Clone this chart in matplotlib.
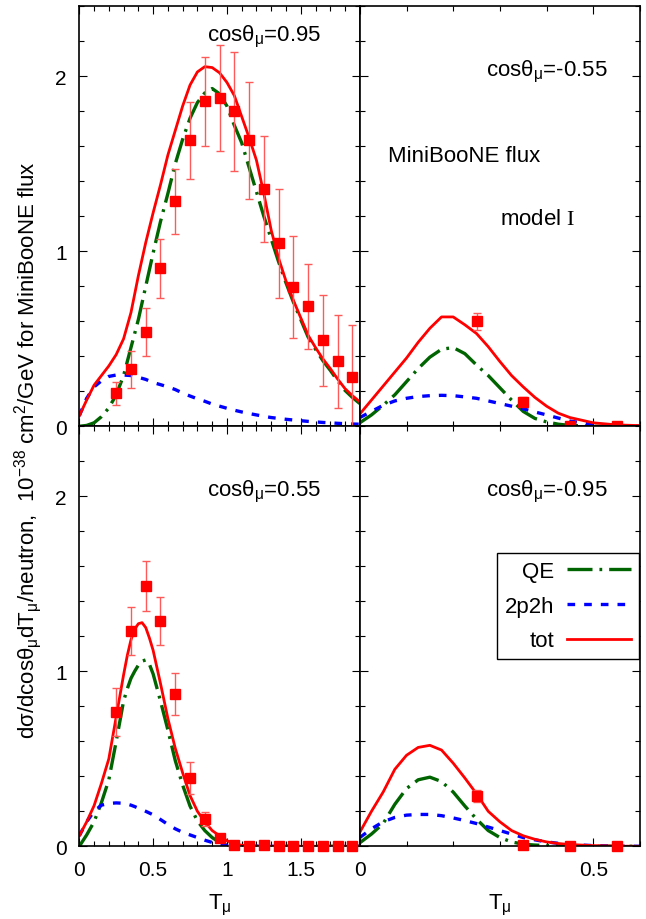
#!/usr/bin/python
"""
    Double differential cross sections d(sigma)/dcos(theta)dT of the muon
    for four muon angles, folded with the MiniBooNE flux (model I):
    QE, 2p2h and their total against the measured points.
"""

# import python third party modules
import matplotlib
matplotlib.use('Agg')
import matplotlib.pyplot as plt
from matplotlib.ticker import FormatStrFormatter, MultipleLocator


# define global variables
# muon kinetic energy grids of the theory curves
T_095 = [0.0, 0.05, 0.1, 0.15, 0.2, 0.25, 0.3, 0.35, 0.4, 0.45, 0.5, 0.55,
         0.6, 0.65, 0.7, 0.75, 0.8, 0.85, 0.9, 0.95, 1.0, 1.05, 1.1, 1.15,
         1.2, 1.25, 1.3, 1.35, 1.4, 1.45, 1.5, 1.55, 1.6, 1.65, 1.7, 1.75,
         1.8, 1.85, 1.9]
T_055 = [0.0, 0.05, 0.1, 0.15, 0.2, 0.25, 0.3, 0.325, 0.35, 0.375, 0.4,
         0.425, 0.45, 0.475, 0.5, 0.55, 0.6, 0.65, 0.7, 0.75, 0.8, 0.85,
         0.9, 0.95, 1.0, 1.05, 1.1, 1.15, 1.2, 1.9]
T_BWD = [0.0, 0.025, 0.05, 0.075, 0.1, 0.125, 0.15, 0.175, 0.2, 0.225,
         0.25, 0.275, 0.3, 0.325, 0.35, 0.375, 0.4, 0.425, 0.45, 0.5, 0.55,
         0.6]

# cos(theta) = 0.95
QE_095 = [0.0, 0.005, 0.02, 0.055, 0.105, 0.18, 0.29, 0.45, 0.61, 0.8, 0.99,
          1.17, 1.33, 1.5, 1.64, 1.76, 1.85, 1.905, 1.93, 1.9, 1.83, 1.72,
          1.62, 1.48, 1.34, 1.2, 1.07, 0.94, 0.82, 0.71, 0.61, 0.51, 0.44,
          0.375, 0.32, 0.26, 0.205, 0.165, 0.13]
NPNH_095 = [0.06, 0.16, 0.225, 0.26, 0.285, 0.293, 0.293, 0.29, 0.28, 0.268,
            0.25, 0.238, 0.225, 0.21, 0.19, 0.173, 0.157, 0.143, 0.127,
            0.115, 0.103, 0.092, 0.082, 0.073, 0.065, 0.057, 0.05, 0.045,
            0.04, 0.036, 0.032, 0.028, 0.025, 0.022, 0.02, 0.017, 0.015,
            0.013, 0.012]
TOT_095 = [0.06, 0.15, 0.235, 0.29, 0.345, 0.41, 0.5, 0.65, 0.86, 1.05,
           1.22, 1.38, 1.55, 1.69, 1.83, 1.95, 2.025, 2.055, 2.05, 2.02,
           1.965, 1.89, 1.77, 1.65, 1.52, 1.33, 1.12, 0.96, 0.83, 0.72,
           0.62, 0.52, 0.45, 0.385, 0.33, 0.27, 0.215, 0.175, 0.14]

# cos(theta) = 0.55
QE_055 = [0.0, 0.065, 0.14, 0.25, 0.38, 0.6, 0.83, 0.9, 0.96, 1.0, 1.035,
          1.058, 1.065, 1.04, 0.985, 0.83, 0.665, 0.49, 0.35, 0.23, 0.145,
          0.09, 0.05, 0.022, 0.007, 0.001, 0.0, 0.0, 0.0, 0.0]
NPNH_055 = [0.06, 0.14, 0.2, 0.235, 0.245, 0.248, 0.246, 0.241, 0.235, 0.227,
            0.218, 0.21, 0.2, 0.19, 0.18, 0.153, 0.125, 0.1, 0.08, 0.065,
            0.05, 0.035, 0.022, 0.012, 0.005, 0.002, 0.0, 0.0, 0.0, 0.0]
TOT_055 = [0.06, 0.14, 0.232, 0.36, 0.5, 0.74, 0.98, 1.09, 1.18, 1.24, 1.272,
           1.278, 1.25, 1.19, 1.12, 0.93, 0.73, 0.56, 0.42, 0.29, 0.2, 0.14,
           0.09, 0.06, 0.032, 0.015, 0.006, 0.002, 0.0, 0.0]

# cos(theta) = -0.55
QE_M055 = [0.02, 0.065, 0.12, 0.18, 0.255, 0.33, 0.395, 0.44, 0.45, 0.415,
           0.35, 0.29, 0.22, 0.15, 0.085, 0.045, 0.025, 0.012, 0.005, 0.0,
           0.0, 0.0]
NPNH_M055 = [0.05, 0.085, 0.12, 0.145, 0.16, 0.17, 0.175, 0.177, 0.175,
             0.168, 0.16, 0.145, 0.13, 0.115, 0.1, 0.082, 0.065, 0.047, 0.03,
             0.01, 0.002, 0.0]
TOT_M055 = [0.07, 0.15, 0.23, 0.31, 0.39, 0.48, 0.56, 0.625, 0.625, 0.58,
            0.53, 0.455, 0.37, 0.29, 0.225, 0.165, 0.115, 0.075, 0.05, 0.02,
            0.008, 0.004]

# cos(theta) = -0.95
QE_M095 = [0.02, 0.07, 0.13, 0.24, 0.33, 0.38, 0.395, 0.37, 0.31, 0.23,
           0.155, 0.09, 0.05, 0.025, 0.012, 0.007, 0.004, 0.002, 0.0, 0.0,
           0.0, 0.0]
NPNH_M095 = [0.05, 0.1, 0.14, 0.165, 0.178, 0.182, 0.182, 0.175, 0.162,
             0.147, 0.13, 0.11, 0.09, 0.07, 0.05, 0.037, 0.025, 0.017, 0.01,
             0.004, 0.001, 0.0]
TOT_M095 = [0.08, 0.2, 0.31, 0.44, 0.52, 0.565, 0.577, 0.55, 0.475, 0.39,
            0.3, 0.2, 0.14, 0.09, 0.06, 0.04, 0.025, 0.016, 0.01, 0.004,
            0.001, 0.0]

# MiniBooNE measured points
T_DATA_FWD = [0.25, 0.35, 0.45, 0.55, 0.65, 0.75, 0.85, 0.95, 1.05, 1.15,
              1.25, 1.35, 1.45, 1.55, 1.65, 1.75, 1.85]
DATA_095 = [0.189, 0.327, 0.537, 0.903, 1.286, 1.634, 1.857, 1.874, 1.8,
            1.634, 1.356, 1.046, 0.796, 0.687, 0.491, 0.371, 0.28]
ERR_095 = [0.067, 0.106, 0.138, 0.167, 0.187, 0.219, 0.255, 0.303, 0.34,
           0.333, 0.304, 0.311, 0.294, 0.243, 0.258, 0.265, 0.3]
DATA_055 = [0.766, 1.232, 1.49, 1.286, 0.869, 0.389, 0.156, 0.05, 0.008,
            0.0, 0.006, 0.0, 0.0, 0.0, 0.0, 0.0, 0.0]
ERR_055 = [0.138, 0.138, 0.143, 0.136, 0.12, 0.09, 0.04, 0.012, 0.004, 0.0,
           0.003, 0.0, 0.0, 0.0, 0.0, 0.0, 0.0]

T_DATA_BWD = [0.25, 0.35, 0.45, 0.55]
DATA_M055 = [0.6, 0.141, 0.004, 0.0]
ERR_M055 = [0.05, 0.025, 0.004, 0.0]
DATA_M095 = [0.286, 0.01, 0.0, 0.0]
ERR_M095 = [0.035, 0.008, 0.0, 0.0]

QE_COLOR = '#006400'
NPNH_COLOR = '#0000ff'
TOT_COLOR = '#ff0000'
TEXT_SIZE = 16


# define methods
def draw_panel(ax, t_curve, qe, npnh, tot, t_data, data, err, xmax):
    """
        Draw the three theory curves and the measured points into one panel
        and return the line handles for the legend.
    """

    qe_line, = ax.plot(t_curve, qe, color=QE_COLOR, lw=2.4,
                       linestyle=(0, (18, 5, 2, 5)), label='QE')
    npnh_line, = ax.plot(t_curve, npnh, color=NPNH_COLOR, lw=2.4,
                         linestyle=(0, (5.5, 6.5)), label='2p2h')
    tot_line, = ax.plot(t_curve, tot, color=TOT_COLOR, lw=2.0, label='tot')
    ax.errorbar(t_data, data, yerr=err, fmt='s', color=TOT_COLOR, ms=6.5,
                ecolor='#ff5a5a', elinewidth=1.0, capsize=3, capthick=1.0,
                zorder=5, clip_on=False)

    # axis range and ticks on all four sides
    ax.set_xlim(0.0, xmax)
    ax.set_ylim(0.0, 2.4)
    ax.xaxis.set_major_locator(MultipleLocator(0.5))
    ax.xaxis.set_minor_locator(MultipleLocator(0.1))
    ax.yaxis.set_major_locator(MultipleLocator(1))
    ax.yaxis.set_minor_locator(MultipleLocator(0.2))
    ax.xaxis.set_major_formatter(FormatStrFormatter('%g'))
    ax.yaxis.set_major_formatter(FormatStrFormatter('%g'))
    ax.tick_params(which='both', direction='in', top=True, right=True,
                   width=0.8, labelsize=15)
    ax.tick_params(which='major', length=5.8)
    ax.tick_params(which='minor', length=3.6)
    ax.tick_params(axis='x', pad=10)
    ax.tick_params(axis='y', pad=9)
    for spine in ax.spines.values():
        spine.set_linewidth(1.2)

    return [qe_line, npnh_line, tot_line]


def angle_label(ax, xpos, ypos, value):
    """
        Put the cos(theta_mu) value of the panel.
    """
    ax.text(xpos, ypos, r'cos$\mathrm{θ}_{\mathrm{μ}}$=' + value,
            transform=ax.transAxes, fontsize=TEXT_SIZE, ha='left',
            va='baseline')


# main part
if __name__ == '__main__':

    plt.rcParams['font.family'] = ['Liberation Sans', 'DejaVu Sans']
    plt.rcParams['mathtext.fontset'] = 'custom'
    plt.rcParams['mathtext.rm'] = 'Liberation Sans'
    plt.rcParams['mathtext.it'] = 'Liberation Sans:italic'
    # roman numeral of the model name is set in a serif face
    plt.rcParams['mathtext.sf'] = 'Liberation Serif'
    plt.rcParams['lines.scale_dashes'] = False

    fig = plt.figure(figsize=(6.46, 9.2), dpi=100)
    left, mid, right = 79.3 / 646, 359.8 / 646, 640.0 / 646
    low, half, high = 1 - 847.3 / 920, 1 - 427.3 / 920, 1 - 7.3 / 920
    ax_tl = fig.add_axes([left, half, mid - left, high - half])
    ax_tr = fig.add_axes([mid, half, right - mid, high - half])
    ax_bl = fig.add_axes([left, low, mid - left, half - low])
    ax_br = fig.add_axes([mid, low, right - mid, half - low])

    draw_panel(ax_tl, T_095, QE_095, NPNH_095, TOT_095,
               T_DATA_FWD, DATA_095, ERR_095, 1.9)
    draw_panel(ax_tr, T_BWD, QE_M055, NPNH_M055, TOT_M055,
               T_DATA_BWD, DATA_M055, ERR_M055, 0.6)
    draw_panel(ax_bl, T_055, QE_055, NPNH_055, TOT_055,
               T_DATA_FWD, DATA_055, ERR_055, 1.9)
    handles = draw_panel(ax_br, T_BWD, QE_M095, NPNH_M095, TOT_M095,
                         T_DATA_BWD, DATA_M095, ERR_M095, 0.6)

    # only the outer panels carry tick labels
    ax_tl.tick_params(labelbottom=False)
    ax_tr.tick_params(labelbottom=False, labelleft=False)
    ax_br.tick_params(labelleft=False)

    angle_label(ax_tl, 0.456, 0.918, '0.95')
    angle_label(ax_tr, 0.451, 0.835, '-0.55')
    angle_label(ax_bl, 0.455, 0.836, '0.55')
    angle_label(ax_br, 0.451, 0.835, '-0.95')
    ax_tr.text(0.1, 0.632, 'MiniBooNE flux', transform=ax_tr.transAxes,
               fontsize=TEXT_SIZE, ha='left', va='baseline')
    ax_tr.text(0.499, 0.482, r'model $\mathsf{I}$', transform=ax_tr.transAxes,
               fontsize=TEXT_SIZE, ha='left', va='baseline')

    leg = ax_br.legend(handles=handles, loc='upper right',
                       bbox_to_anchor=(0.997, 0.698), markerfirst=False,
                       fontsize=TEXT_SIZE, handlelength=2.9,
                       handletextpad=0.57, labelspacing=0.62, borderpad=0.35,
                       borderaxespad=0, fancybox=False, framealpha=1,
                       edgecolor='black')
    leg.get_frame().set_linewidth(1.0)

    ax_bl.set_xlabel(r'T$_{\mathrm{μ}}$', fontsize=TEXT_SIZE, labelpad=9)
    ax_br.set_xlabel(r'T$_{\mathrm{μ}}$', fontsize=TEXT_SIZE, labelpad=9)
    fig.text(0.043, 0.511,
             r'dσ/dcosθ$_{\mathrm{μ}}$dT$_{\mathrm{μ}}$/neutron,  '
             r'10$^{\mathrm{-38}}$ cm$^{\mathrm{2}}$/GeV for MiniBooNE flux',
             rotation=90, fontsize=TEXT_SIZE, ha='center', va='center')

    plt.savefig('out.png', dpi=100)
